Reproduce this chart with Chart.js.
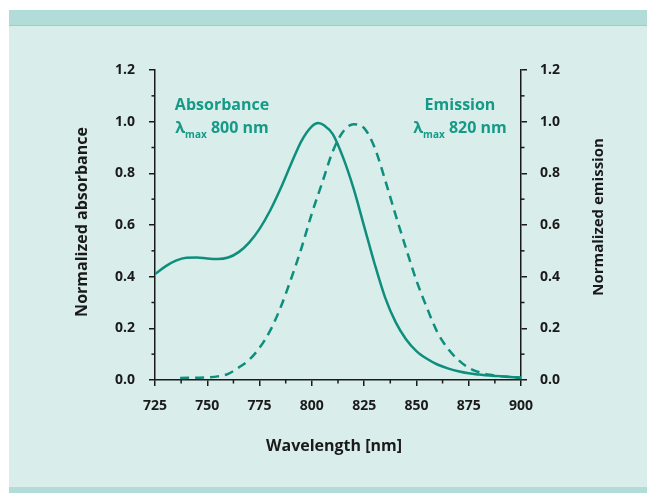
<!DOCTYPE html>
<html><head><meta charset="utf-8">
<script src="https://cdn.jsdelivr.net/npm/chart.js@4"></script>
<style>
html,body{margin:0;padding:0;background:#fff;}
#wrap{position:relative;width:647px;height:493px;overflow:hidden;}
.band{position:absolute;}
canvas{position:absolute;left:0;top:0;}
</style></head><body>
<div id="wrap">
<div class="band" style="left:9px;top:10px;width:638px;height:15px;background:#b2dcd8;border-bottom:1px solid #9ccfca"></div>
<div class="band" style="left:9px;top:26px;width:638px;height:461px;background:#d9edea"></div>
<div class="band" style="left:9px;top:487px;width:638px;height:6px;background:#b2dcd8"></div>
<canvas id="c" width="647" height="493"></canvas>
</div>
<script>
// ---- data ----
const absWavelength = [725,730,735,740,745,750,755,760,765,770,775,780,785,790,795,800,803,806,810,815,820,825,830,835,840,845,850,855,860,865,870,875,880,885,890,895,900];
const absorbance    = [0.41,0.44,0.462,0.473,0.474,0.470,0.468,0.474,0.495,0.532,0.585,0.655,0.74,0.835,0.925,0.982,0.995,0.985,0.952,0.86,0.74,0.595,0.45,0.32,0.225,0.158,0.112,0.082,0.06,0.045,0.034,0.026,0.021,0.017,0.015,0.012,0.010];
const emWavelength  = [737,745,750,755,760,765,770,775,780,785,790,795,800,805,810,815,820,825,830,835,840,845,850,855,860,865,870,875,880,885,890,895,900];
const emission      = [0.008,0.009,0.010,0.014,0.024,0.048,0.078,0.125,0.19,0.28,0.39,0.51,0.645,0.765,0.885,0.962,0.99,0.975,0.9,0.775,0.64,0.51,0.385,0.28,0.185,0.122,0.078,0.047,0.03,0.02,0.015,0.011,0.008];
const xTickLabels = [725,750,775,800,825,850,875,900];
const yTickLabels = ['0.0','0.2','0.4','0.6','0.8','1.0','1.2'];
const xTitle = 'Wavelength [nm]';
const yTitleLeft = 'Normalized absorbance';
const yTitleRight = 'Normalized emission';
const absLabel = ['Absorbance', '800 nm'];
const emLabel = ['Emission', '820 nm'];

const LINE = '#0e8e7d';
const TEXT = '#169a88';
const DARK = '#1a1a1a';
const FAM = '"Open Sans"';
const tickFont = {family:'Open Sans', size:14, weight:'bold'};

const absData = absWavelength.map((x,i)=>({x, y:absorbance[i]}));
const emData = emWavelength.map((x,i)=>({x, y:emission[i]}));

const axisGrid = {drawOnChartArea:false, drawTicks:true, tickLength:6, color:DARK, lineWidth:1.5};
const axisBorder = {display:true, color:DARK, width:1.5};

const decor = {
  id:'decor',
  afterDraw(chart){
    const {ctx, chartArea:a, scales} = chart;
    ctx.save();
    // minor ticks
    ctx.strokeStyle = DARK; ctx.lineWidth = 1.5;
    for (let v = 0.1; v < 1.2; v += 0.2) {
      const y = scales.y.getPixelForValue(v);
      ctx.beginPath(); ctx.moveTo(a.left-3.5, y); ctx.lineTo(a.left, y); ctx.stroke();
      ctx.beginPath(); ctx.moveTo(a.right, y); ctx.lineTo(a.right+3.5, y); ctx.stroke();
    }
    for (let v = 737.5; v < 900; v += 25) {
      const x = scales.x.getPixelForValue(v);
      ctx.beginPath(); ctx.moveTo(x, a.bottom); ctx.lineTo(x, a.bottom+3.5); ctx.stroke();
    }
    // axis titles
    ctx.fillStyle = DARK;
    ctx.textAlign = 'center'; ctx.textBaseline = 'middle';
    ctx.font = 'bold 16px ' + FAM;
    ctx.fillText(xTitle, 334, 446);
    ctx.save(); ctx.translate(82, 222); ctx.rotate(-Math.PI/2); ctx.fillText(yTitleLeft, 0, 0); ctx.restore();
    ctx.font = 'bold 15px ' + FAM;
    ctx.save(); ctx.translate(599, 217); ctx.rotate(-Math.PI/2); ctx.fillText(yTitleRight, 0, 0); ctx.restore();
    // annotations
    ctx.fillStyle = TEXT;
    ctx.textBaseline = 'alphabetic';
    function label(lines, cx){
      const big = 'bold 16px ' + FAM, small = 'bold 10px ' + FAM;
      ctx.font = big;
      ctx.textAlign = 'center';
      ctx.fillText(lines[0], cx, 110);
      const wL = ctx.measureText('λ').width;
      ctx.font = small; const wS = ctx.measureText('max').width;
      ctx.font = big; const wN = ctx.measureText(' ' + lines[1]).width;
      let x0 = cx - (wL + wS + wN)/2;
      ctx.textAlign = 'left';
      ctx.fillText('λ', x0, 133);
      ctx.font = small; ctx.fillText('max', x0 + wL, 138);
      ctx.font = big; ctx.fillText(' ' + lines[1], x0 + wL + wS, 133);
    }
    label(absLabel, 222);
    label(emLabel, 460);
    ctx.restore();
  }
};

new Chart(document.getElementById('c'), {
  type:'line',
  data:{datasets:[
    {label:'Absorbance', data:absData, borderColor:LINE, borderWidth:2.5, pointRadius:0, cubicInterpolationMode:'monotone', fill:false, yAxisID:'y'},
    {label:'Emission', data:emData, borderColor:LINE, borderWidth:2.5, borderDash:[9,6], pointRadius:0, cubicInterpolationMode:'monotone', fill:false, yAxisID:'y2'}
  ]},
  options:{
    responsive:false, animation:false,
    layout:{padding:{left:0,right:0,top:70,bottom:0}},
    plugins:{legend:{display:false}, tooltip:{enabled:false}},
    scales:{
      x:{type:'linear', min:725, max:900,
         afterBuildTicks(s){ s.ticks = xTickLabels.map(v=>({value:v})); },
         ticks:{color:DARK, font:tickFont, padding:12, maxRotation:0, autoSkip:false, callback:v=>String(v)},
         grid:axisGrid, border:axisBorder,
         afterFit(s){ s.height = 113; }},
      y:{position:'left', min:0, max:1.2,
         afterBuildTicks(s){ s.ticks = yTickLabels.map(t=>({value:parseFloat(t)})); },
         ticks:{color:DARK, font:tickFont, padding:14, callback:(v,i)=>yTickLabels[i]},
         grid:axisGrid, border:axisBorder,
         afterFit(s){ s.width = 155; }},
      y2:{position:'right', min:0, max:1.2,
         afterBuildTicks(s){ s.ticks = yTickLabels.map(t=>({value:parseFloat(t)})); },
         ticks:{color:DARK, font:tickFont, padding:13, callback:(v,i)=>yTickLabels[i]},
         grid:axisGrid, border:axisBorder,
         afterFit(s){ s.width = 126; }}
    }
  },
  plugins:[decor]
});
</script>
</body></html>
